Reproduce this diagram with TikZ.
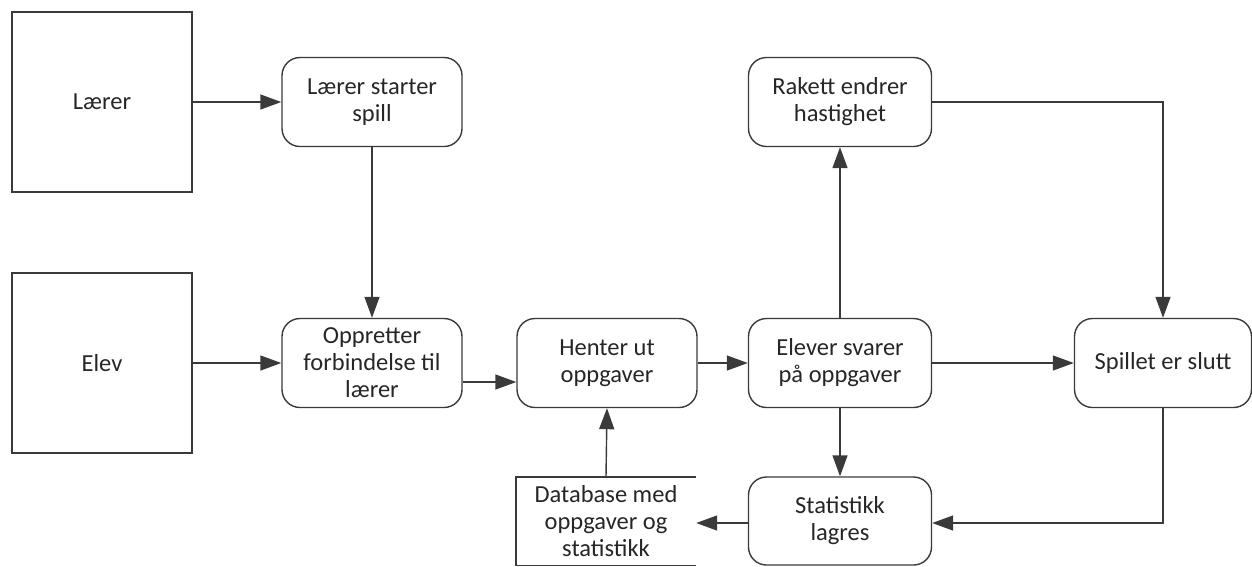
\documentclass[tikz,border=0pt]{standalone}
\usepackage{fontspec}
\setmainfont{Carlito}
\usetikzlibrary{arrows.meta}
\definecolor{lc}{HTML}{3A3A3A}
\definecolor{tc}{HTML}{262626}
\tikzset{
  base/.style={draw=lc, line width=1.4pt, text=tc, align=center, inner sep=2pt,
    font=\fontsize{24.5}{27}\selectfont},
  actor/.style={base, minimum width=180pt, minimum height=180pt},
  proc/.style={base, rounded corners=18pt, minimum width=180pt, minimum height=89pt},
  store/.style={text=tc, align=center, inner sep=0pt, minimum width=180pt, minimum height=88pt,
    font=\fontsize{24.5}{27}\selectfont},
  arr/.style={draw=lc, line width=1.4pt, -{Triangle[length=21pt,width=15pt]}},
  ln/.style={draw=lc, line width=1.4pt}
}
\begin{document}
\begin{tikzpicture}[x=1pt,y=-1pt]
\useasboundingbox (0,0) rectangle (1252,566);
\node[actor] (laerer) at (102,102) {Lærer};
\node[actor] (elev) at (102,363) {Elev};
\node[proc] (start) at (372,102) {Lærer starter\\spill};
\node[proc] (opp) at (372,363) {Oppretter\\forbindelse til\\lærer};
\node[proc] (hent) at (607,363) {Henter ut\\oppgaver};
\node[proc, minimum width=183pt] (svar) at (840,363) {Elever svarer\\på oppgaver};
\node[proc, minimum width=183pt] (rakett) at (840,102) {Rakett endrer\\hastighet};
\node[proc, minimum width=177pt] (slutt) at (1163,363) {Spillet er slutt};
\node[proc, minimum width=183pt, minimum height=88pt] (stat) at (840,521) {Statistikk\\lagres};
\node[store] (db) at (606,521) {Database med\\oppgaver og\\statistikk};
\draw[ln] (db.north east) -- (db.north west) -- (db.south west) -- (db.south east);

\draw[arr] (laerer.east) -- (start.west);
\draw[arr] (elev.east) -- (opp.west);
\draw[arr] (start.south) -- (opp.north);
\draw[arr] ([yshift=-19pt]opp.east) -- ([yshift=-19pt]hent.west);
\draw[arr] (hent.east) -- (svar.west);
\draw[arr] (svar.east) -- (slutt.west);
\draw[arr] (svar.north) -- (rakett.south);
\draw[arr] (rakett.east) -| (slutt.north);
\draw[arr] (slutt.south) |- ([yshift=-2pt]stat.east);
\draw[arr] (svar.south) -- (stat.north);
\draw[arr] ([yshift=-2pt]stat.west) -- ([yshift=-2pt]db.east);
\draw[arr] (db.north) -- (hent.south);
\end{tikzpicture}
\end{document}
